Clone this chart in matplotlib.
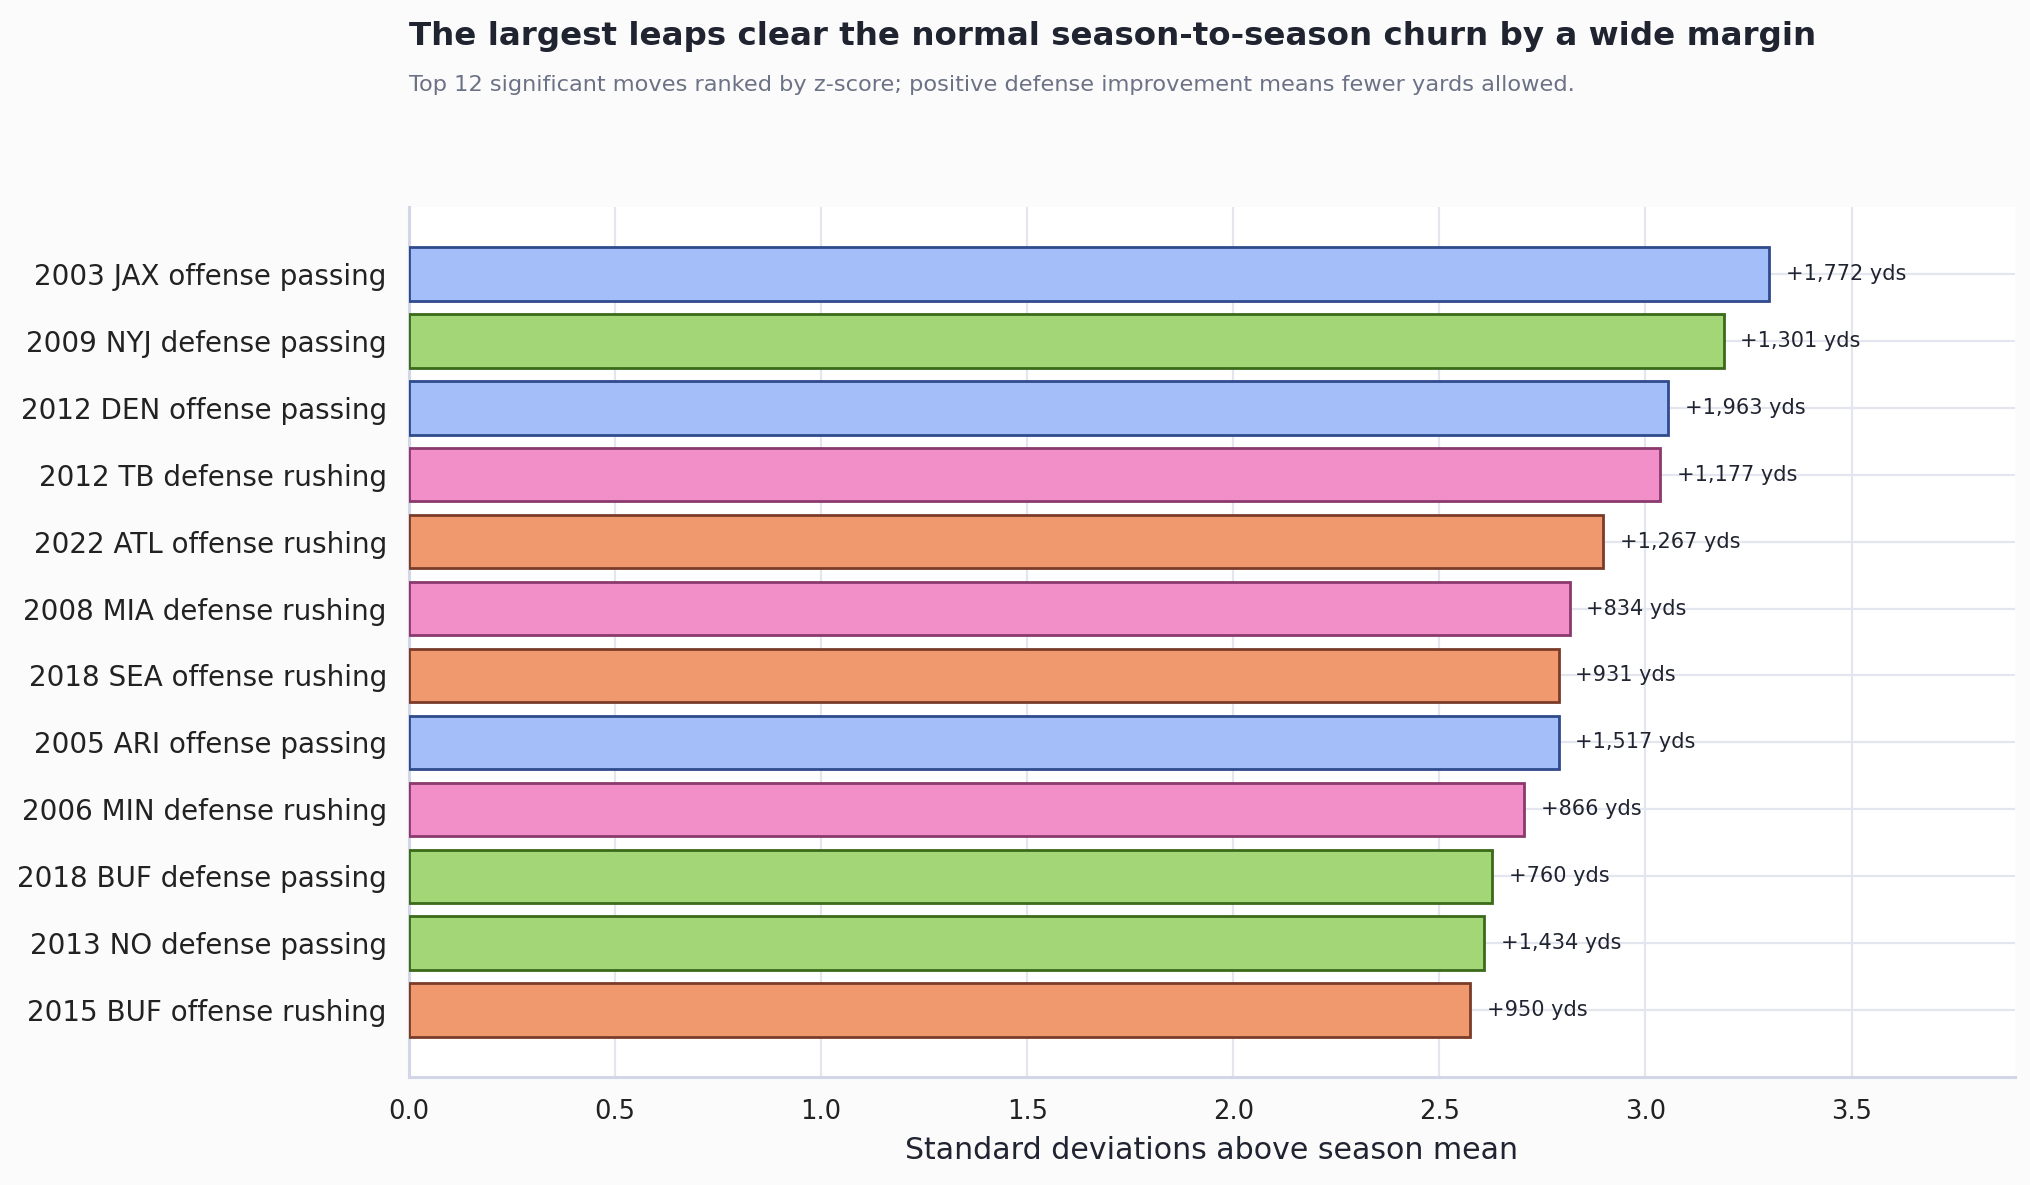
import matplotlib
matplotlib.use("Agg")
import matplotlib.pyplot as plt

# moves, top to bottom as shown
labels = [
    "2003 JAX offense passing",
    "2009 NYJ defense passing",
    "2012 DEN offense passing",
    "2012 TB defense rushing",
    "2022 ATL offense rushing",
    "2008 MIA defense rushing",
    "2018 SEA offense rushing",
    "2005 ARI offense passing",
    "2006 MIN defense rushing",
    "2018 BUF defense passing",
    "2013 NO defense passing",
    "2015 BUF offense rushing",
]
zscores = [3.30, 3.19, 3.055, 3.035, 2.897, 2.816, 2.789, 2.789, 2.706, 2.628, 2.609, 2.575]
yards = [1772, 1301, 1963, 1177, 1267, 834, 931, 1517, 866, 760, 1434, 950]
kinds = [
    "offense passing", "defense passing", "offense passing", "defense rushing",
    "offense rushing", "defense rushing", "offense rushing", "offense passing",
    "defense rushing", "defense passing", "defense passing", "offense rushing",
]

fills = {
    "offense passing": "#a4befa",
    "defense passing": "#a3d676",
    "defense rushing": "#f28fc8",
    "offense rushing": "#f0996e",
}
edges = {
    "offense passing": "#2f4b8c",
    "defense passing": "#3a6a1a",
    "defense rushing": "#8a3a6c",
    "offense rushing": "#7a3c28",
}

fig = plt.figure(figsize=(10.155, 5.925), dpi=200)
fig.patch.set_facecolor("#fbfbfb")
ax = fig.add_axes([0.2014, 0.0911, 0.7906, 0.7342])
ax.set_facecolor("white")

ypos = list(range(len(labels)))[::-1]
ax.barh(ypos, zscores, height=0.8,
        color=[fills[k] for k in kinds],
        edgecolor=[edges[k] for k in kinds],
        linewidth=1.0, zorder=3)

for y, z, yd in zip(ypos, zscores, yards):
    ax.annotate(f"+{yd:,} yds", xy=(z, y), xytext=(6, 0),
                textcoords="offset points", va="center", ha="left",
                fontsize=7.5, color="#1f2430", zorder=4)

ax.set_yticks(ypos)
ax.set_yticklabels(labels, fontsize=10, color="#222222")
ax.set_ylim(-1, 12)
ax.set_xlim(0, 3.896)
ax.set_xticks([0, 0.5, 1.0, 1.5, 2.0, 2.5, 3.0, 3.5])
ax.set_xticklabels(["0.0", "0.5", "1.0", "1.5", "2.0", "2.5", "3.0", "3.5"])
ax.tick_params(axis="x", labelsize=9.3, colors="#222222", length=0, pad=8)
ax.tick_params(axis="y", length=0, pad=8)
ax.set_xlabel("Standard deviations above season mean", fontsize=10.8, color="#1f2430", labelpad=4)

ax.grid(True, color="#e4e6ef", linewidth=0.8, zorder=0)
ax.set_axisbelow(True)
for s in ["top", "right"]:
    ax.spines[s].set_visible(False)
for s in ["left", "bottom"]:
    ax.spines[s].set_color("#d3d6e6")
    ax.spines[s].set_linewidth(1.1)

fig.text(0.2014, 0.969, "The largest leaps clear the normal season-to-season churn by a wide margin",
         fontsize=11.7, fontweight="bold", color="#1f2430", ha="left", va="center")
fig.text(0.2014, 0.928,
         "Top 12 significant moves ranked by z-score; positive defense improvement means fewer yards allowed.",
         fontsize=8.1, color="#6b7285", ha="left", va="center")

fig.savefig("out.png", dpi=200, facecolor=fig.get_facecolor())
